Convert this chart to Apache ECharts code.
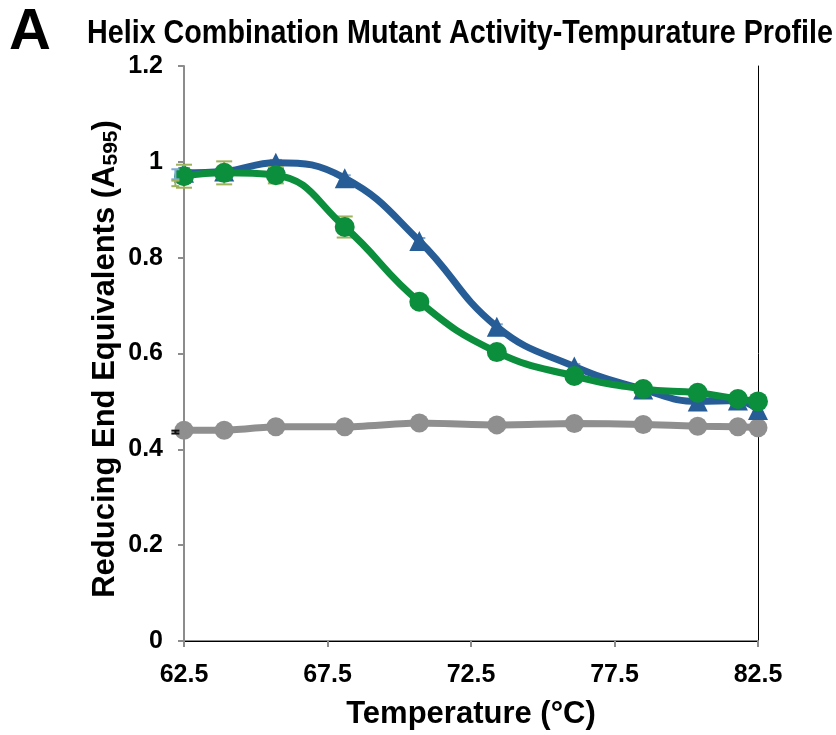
<!DOCTYPE html>
<html>
<head>
<meta charset="utf-8">
<script src="https://cdn.jsdelivr.net/npm/echarts@6/dist/echarts.min.js"></script>
<style>
  html, body { margin: 0; padding: 0; background: #ffffff; }
  #chart { width: 836px; height: 735px; }
</style>
</head>
<body>
<div id="chart"></div>
<script>
// Incubation temperatures (°C) from the thermal gradient
const temperatures = [62.5, 63.9, 65.7, 68.1, 70.7, 73.4, 76.1, 78.5, 80.4, 81.8, 82.5];

// Reducing end equivalents (A595) per construct
const blueValues  = [0.977, 0.980, 0.998, 0.966, 0.835, 0.656, 0.573, 0.525, 0.500, 0.502, 0.482];
const greenValues = [0.970, 0.977, 0.972, 0.864, 0.708, 0.603, 0.553, 0.526, 0.518, 0.505, 0.500];
const grayValues  = [0.440, 0.440, 0.447, 0.447, 0.455, 0.451, 0.454, 0.452, 0.448, 0.447, 0.445];

// Standard deviations
const blueErr  = [0.010, 0.008, 0.006, 0.006, 0.006, 0.005, 0.005, 0.005, 0.005, 0.005, 0.005];
const greenErr = [0.024, 0.024, 0.017, 0.022, 0.006, 0.005, 0.005, 0.005, 0.005, 0.005, 0.005];
const grayErr  = [0.003, 0.003, 0.003, 0.003, 0.003, 0.003, 0.003, 0.003, 0.003, 0.003, 0.003];

// Replicate bars plotted just below the lowest temperature
const sideTemps  = [62.2, 62.2, 62.2];
const sideValues = [0.974, 0.955, 0.436];
const sideErr    = [0.0105, 0.0058, 0.003];
const sideColors = ['#7fa9d6', '#9fb25c', '#111111'];

const xTicks = { min: 62.5, max: 82.5, step: 5 };
const yTicks = { min: 0, max: 1.2, step: 0.2 };

const BLUE = '#275d97';
const GREEN = '#0c8f3d';
const GRAY = '#8f8f8f';
const FONT = '"Liberation Sans", Arial, sans-serif';

function pairs(xs, ys) { return xs.map((x, i) => [x, ys[i]]); }
function errRows(xs, ys, es) { return xs.map((x, i) => [x, ys[i] - es[i], ys[i] + es[i]]); }

function barShapes(lo, hi, capHalf, color) {
  const style = { stroke: color, lineWidth: 2 };
  return {
    type: 'group',
    children: [
      { type: 'line', shape: { x1: lo[0], y1: lo[1], x2: hi[0], y2: hi[1] }, style },
      { type: 'line', shape: { x1: lo[0] - capHalf, y1: lo[1], x2: lo[0] + capHalf, y2: lo[1] }, style },
      { type: 'line', shape: { x1: hi[0] - capHalf, y1: hi[1], x2: hi[0] + capHalf, y2: hi[1] }, style }
    ]
  };
}

function errorBarRenderer(color, capHalf) {
  return function (params, api) {
    const lo = api.coord([api.value(0), api.value(1)]);
    const hi = api.coord([api.value(0), api.value(2)]);
    return barShapes(lo, hi, capHalf, color);
  };
}

function sideBarRenderer(params, api) {
  const lo = api.coord([api.value(0), api.value(1)]);
  const hi = api.coord([api.value(0), api.value(2)]);
  return barShapes(lo, hi, 4, sideColors[params.dataIndex]);
}

const chart = echarts.init(document.getElementById('chart'), null, { renderer: 'canvas' });

const lineBase = { type: 'line', smooth: 0.45 };

chart.setOption({
  animation: false,
  backgroundColor: '#ffffff',
  textStyle: { fontFamily: FONT },
  graphic: [
    {
      type: 'text', x: 9, y: 33,
      style: { text: 'A', font: 'bold 58px ' + FONT, fill: '#000', verticalAlign: 'middle' }
    },
    {
      type: 'text', x: 87, y: 34, scaleX: 0.87,
      style: { text: 'Helix Combination Mutant Activity-Tempurature Profile',
               font: 'bold 33px ' + FONT, fill: '#000', verticalAlign: 'middle' }
    },
    {
      type: 'text', x: 105, y: 359, rotation: Math.PI / 2,
      style: {
        text: '{t|Reducing End Equivalents (A}{s|595}{t|)}',
        align: 'center', verticalAlign: 'middle',
        rich: {
          t: { fontSize: 31, fontWeight: 'bold', fill: '#000', fontFamily: FONT },
          s: { fontSize: 21, fontWeight: 'bold', fill: '#000', fontFamily: FONT, padding: [13, 0, 0, 0] }
        }
      }
    }
  ],
  grid: { left: 184, right: 78, top: 66, bottom: 94, containLabel: false },
  xAxis: [
    {
      type: 'value', min: xTicks.min, max: xTicks.max, interval: xTicks.step,
      name: 'Temperature (°C)', nameLocation: 'middle', nameGap: 58,
      nameTextStyle: { fontSize: 31, fontWeight: 'bold', color: '#000', fontFamily: FONT },
      axisLine: { show: true, lineStyle: { color: '#8c8c8c', width: 2 } },
      axisTick: { show: true, inside: false, length: 6, lineStyle: { color: '#8c8c8c', width: 2 } },
      axisLabel: { fontSize: 25, fontWeight: 'bold', color: '#000', margin: 22, fontFamily: FONT,
                   formatter: v => v.toFixed(1) },
      splitLine: { show: false }
    },
    {
      type: 'value', position: 'top', min: xTicks.min, max: xTicks.max,
      axisLine: { show: true, lineStyle: { color: '#000', width: 1 } },
      axisTick: { show: false }, axisLabel: { show: false }, splitLine: { show: false }
    }
  ],
  yAxis: [
    {
      type: 'value', min: yTicks.min, max: yTicks.max, interval: yTicks.step,
      axisLine: { show: true, lineStyle: { color: '#8c8c8c', width: 2 } },
      axisTick: { show: true, inside: false, length: 6, lineStyle: { color: '#8c8c8c', width: 2 } },
      axisLabel: { fontSize: 25, fontWeight: 'bold', color: '#000', margin: 21, fontFamily: FONT },
      splitLine: { show: false }
    },
    {
      type: 'value', position: 'right', min: yTicks.min, max: yTicks.max,
      axisLine: { show: true, lineStyle: { color: '#000', width: 1 } },
      axisTick: { show: false }, axisLabel: { show: false }, splitLine: { show: false }
    }
  ],
  series: [
    {
      type: 'custom', name: 'Gray SD', data: errRows(temperatures, grayValues, grayErr),
      renderItem: errorBarRenderer('#111', 3), z: 1
    },
    {
      ...lineBase, name: 'Gray', data: pairs(temperatures, grayValues), smooth: 0.2, z: 2,
      lineStyle: { color: GRAY, width: 7 }, itemStyle: { color: GRAY },
      symbol: 'circle', symbolSize: 19
    },
    {
      type: 'custom', name: 'Blue SD', data: errRows(temperatures, blueValues, blueErr),
      renderItem: errorBarRenderer('#7fa9d6', 6), z: 3
    },
    {
      ...lineBase, name: 'Blue', data: pairs(temperatures, blueValues), z: 4,
      lineStyle: { color: BLUE, width: 7 }, itemStyle: { color: BLUE },
      symbol: 'triangle', symbolSize: 20
    },
    {
      type: 'custom', name: 'Green SD', data: errRows(temperatures, greenValues, greenErr),
      renderItem: errorBarRenderer('#9fb25c', 8), z: 5
    },
    {
      ...lineBase, name: 'Green', data: pairs(temperatures, greenValues), z: 6,
      lineStyle: { color: GREEN, width: 7 }, itemStyle: { color: GREEN },
      symbol: 'circle', symbolSize: 20
    },
    {
      type: 'custom', name: 'Side SD', clip: false, data: errRows(sideTemps, sideValues, sideErr),
      renderItem: sideBarRenderer, z: 8
    }
  ]
});
</script>
</body>
</html>
